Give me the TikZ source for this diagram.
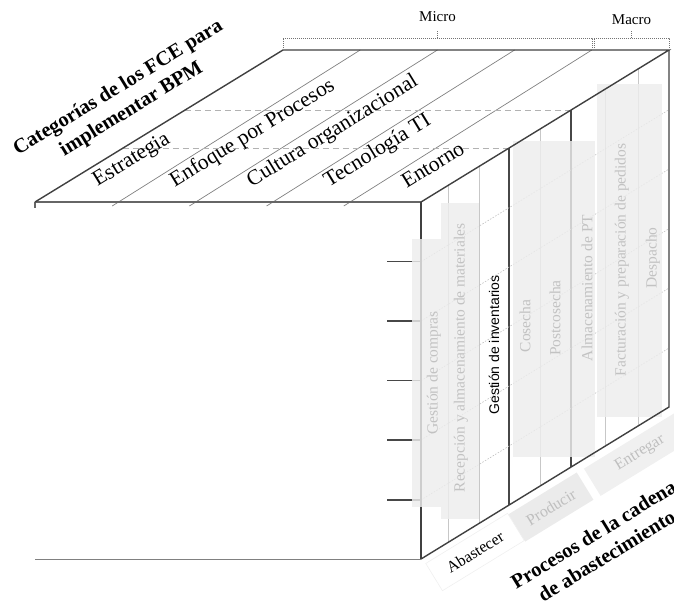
\documentclass[tikz,border=0pt]{standalone}
\usepackage{fontspec}
\setmainfont{Liberation Serif}
\newfontfamily\labelsans{Liberation Sans}
\usetikzlibrary{calc}

\begin{document}
\begin{tikzpicture}[x=1pt,y=-1pt,
  edge/.style={draw=black!75, line width=1.4pt},
  frontedge/.style={draw=black!60, line width=1.2pt},
  stripe/.style={draw=black!50, line width=0.7pt},
  column/.style={draw=black!22, line width=0.8pt},
  groupline/.style={draw=black!72, line width=1.4pt},
  hidden/.style={draw=black!30, line width=1pt, dash pattern=on 6pt off 4pt},
  level/.style={draw=black!25, line width=0.6pt, dash pattern=on 1.5pt off 1.5pt},
  tickmark/.style={draw=black!72, line width=1.4pt},
  bracket/.style={draw=black!55, line width=0.7pt, dash pattern=on 1pt off 1pt},
  shade/.style={fill=black!7, fill opacity=0.82, draw=none},
  category/.style={font=\fontsize{21.5}{25}\selectfont, rotate=31.5, anchor=west, inner sep=0pt},
  activity/.style={font=\fontsize{15.5}{18}\selectfont, text=black!24, rotate=90, inner sep=0pt},
  scope label/.style={font=\fontsize{15}{18}\selectfont, inner sep=0pt},
  title/.style={font=\bfseries\fontsize{20.5}{25}\selectfont, rotate=31.5, align=center, inner sep=0pt},
  stage/.style={font=\fontsize{16}{19}\selectfont, rotate=31.5, inner sep=0pt, minimum height=32pt}
]
\useasboundingbox (0,0) rectangle (674,608);

% cube corners
\coordinate (ftl) at (35,202);
\coordinate (ftr) at (421,202);
\coordinate (fbl) at (35,559);
\coordinate (fbr) at (421,559);
\coordinate (btl) at (283,50);
\coordinate (btr) at (669,50);
\coordinate (bbr) at (669,407);

% top face: category stripes
\foreach \i in {1,...,4}
  \draw[stripe] ($(ftl)!\i/5!(ftr)+(0,4)$) -- ($(btl)!\i/5!(btr)$);

% hidden levels on the top face
\foreach \t [count=\k] in {0.3548,0.6048} {
  \coordinate (hl\k) at ($(ftl)!\t!(btl)$);
  \coordinate (hr\k) at ($(ftr)!\t!(btr)$);
  \draw[hidden] (hl\k) -- (hr\k);
}

% right face: process columns
\foreach \t [count=\k] in {0.1089,0.2339,0.4798,0.7419,0.875} {
  \coordinate (ct\k) at ($(ftr)!\t!(btr)$);
  \coordinate (cb\k) at ($(fbr)!\t!(bbr)$);
  \draw[column] (ct\k) -- (cb\k);
}
\foreach \t [count=\k] in {0.3548,0.6048} {
  \coordinate (gb\k) at ($(fbr)!\t!(bbr)$);
  \draw[groupline] (hr\k) -- (gb\k);
}

% levels: ticks on the front face, dotted lines on the right face
\foreach \y [count=\k] in {261.7,321,380.7,440,500} {
  \coordinate (la\k) at (387,\y);
  \coordinate (lb\k) at (421,\y);
  \coordinate (lc\k) at ($(lb\k)+(248,-152)$);
  \draw[tickmark] (la\k) -- (lb\k);
  \draw[level] (lb\k) -- (lc\k);
}

% front face
\draw[frontedge] (ftl) -- (ftr);
\draw[draw=black!50, line width=1pt] (fbl) -- (fbr);
\draw[frontedge] (ftl) -- ++(0,6);
\draw[edge] (ftr) -- (fbr);

% shaded activity groups
\fill[shade] (412,239) rectangle (441,507);
\fill[shade] (441,203) rectangle (479,519);
\fill[shade] (513,141) rectangle (595,457);
\fill[shade] (597,84) rectangle (662,417);

% outline of the cube
\draw[edge] (ftl) -- (btl) -- (btr) -- (ftr);
\draw[edge] (btr) -- (bbr) -- (fbr);

% category labels
\node[category] (c1) at (95,183) {Estrategia};
\node[category] (c2) at (172,183) {Enfoque por Procesos};
\node[category] (c3) at (249,183) {Cultura organizacional};
\node[category] (c4) at (326,183) {Tecnología TI};
\node[category] (c5) at (403,183) {Entorno};

% micro / macro brackets
\draw[bracket] (283,48) -- (283,38) -- (592,38) -- (592,48);
\draw[bracket] (594,48) -- (594,38) -- (669,38) -- (669,48);
\coordinate (mi) at (437.5,38);
\coordinate (ma) at (631.5,38);
\node[scope label] (micro) at (437.5,17) {Micro};
\node[scope label] (macro) at (631.5,20) {Macro};
\draw[bracket] (mi) -- (micro.south |- 0,31);
\draw[bracket] (ma) -- (macro.south |- 0,31);

% activities
\node[activity] (a1) at (434,373) {Gestión de compras};
\node[activity] (a2) at (461,358) {Recepción y almacenamiento de materiales};
\node[activity, text=black, font=\labelsans\fontsize{14}{17}\selectfont] (a3) at (494,345) {Gestión de inventarios};
\node[activity] (a4) at (525,326) {Cosecha};
\node[activity] (a5) at (555,318) {Postcosecha};
\node[activity] (a6) at (587,288) {Almacenamiento de PT};
\node[activity] (a7) at (622,260) {Facturación y preparación de pedidos};
\node[activity] (a8) at (653,258) {Despacho};

% supply chain stages
\node[stage, minimum width=96pt, fill=white, draw=black!6, line width=0.6pt] (s1) at (475,552) {Abastecer};
\node[stage, minimum width=80pt, fill=black!8, text=black!25] (s2) at (551,507) {Producir};
\node[stage, minimum width=112pt, fill=black!6, text=black!25] (s3) at (640,453) {Entregar};

% axis titles
\node[title] (tfce) at (125,99) {Categorías de los FCE para\\implementar BPM};
\node[title] (tproc) at (600,545) {Procesos de la cadena\\de abastecimiento};
\end{tikzpicture}
\end{document}
